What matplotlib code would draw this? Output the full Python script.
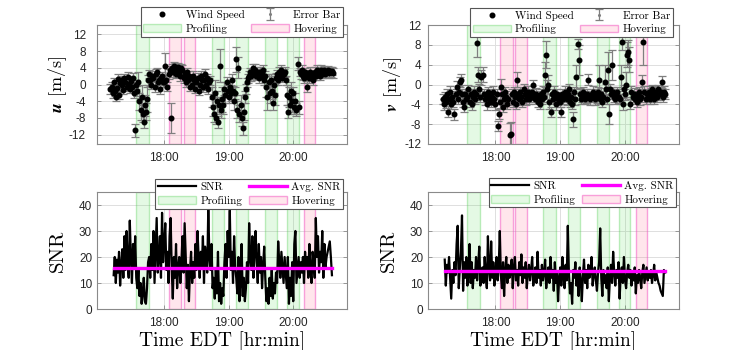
import numpy as np
import pandas as pd
import matplotlib
matplotlib.use("Agg")
import matplotlib.pyplot as plt
import matplotlib.dates as mdates
from matplotlib.patches import Patch
from matplotlib.lines import Line2D

plt.rcParams['axes.unicode_minus'] = False
plt.rcParams['mathtext.fontset'] = 'cm'

# ---------------- data ----------------
u_start = "2021-07-20 17:10"
u_vals = [
    -1.0, -0.5, -2.0, 0.5, -1.5, -3.0, -0.8, 1.2, -2.5, 0.3,      # 17:10
    1.0, 0.0, -1.2, 1.5, 0.5, -0.5, 1.8, 0.2, -1.0, 0.8,          # 17:20
    -0.5, 1.5, -2.0, -11.0, 0.0, -1.5, 0.5, -4.0, -6.0, -3.0,     # 17:30
    -7.0, -9.0, -5.0, -6.5, -3.5, 1.0, 2.5, 1.0, 0.0, 2.0,        # 17:40
    1.5, -0.5, 2.5, 3.0, 0.5, 1.0, -1.0, 1.5, 2.0, 0.5,           # 17:50
    0.5, 4.5, 1.0, -0.5, 2.5, 3.5, -8.0, 4.0, 3.0, 4.5,           # 18:00
    4.0, 2.5, 3.8, 4.2, 3.0, 2.0, 4.0, 3.5, 1.5, 2.5,             # 18:10
    0.5, 3.0, 1.0, 2.0, -0.5, 1.5, 0.0, 2.0, 1.0, -1.0,           # 18:20
    0.5, 1.5, -1.5, 0.0, 2.0, 1.0, -0.5, 1.0, 2.5, 0.0,           # 18:30
    1.5, -1.0, 0.5, 1.0, -3.0, -5.5, -7.0, -2.0, -8.0, -4.0,      # 18:40
    -9.0, -5.0, 4.5, -6.0, -3.5, -5.0, -1.0, -2.5, 0.5, -1.5,     # 18:50
    -3.0, -0.5, -2.0, 1.0, -1.5, -4.0, -2.0, 6.0, -6.0, 4.0,      # 19:00
    -7.0, -5.0, -8.0, -10.5, -6.5, -3.0, -1.0, 0.5, 1.5, 2.0,     # 19:10
    3.0, 2.0, 2.5, 4.0, 3.5, 2.0, 3.0, 2.5, 1.5, 3.0,             # 19:20
    2.0, 2.5, 3.5, 1.0, 2.0, -0.5, -3.0, 0.5, -2.0, 1.0,          # 19:30
    -1.5, -4.5, 0.0, -2.5, 1.5, 2.5, 1.0, 3.0, 2.0, 3.5,          # 19:40
    1.5, 2.5, 3.0, 1.0, -2.5, -6.5, -3.0, -5.0, -1.5, -4.0,       # 19:50
    -2.0, -5.5, -4.0, -6.0, 5.0, -5.5, 3.0, 2.5, 3.5, 2.0,        # 20:00
    1.5, 3.0, 2.0, -0.5, 2.5, 1.5, 3.0, 2.0, 1.0, 2.5,            # 20:10
    3.0, 2.0, 3.5, 2.5, 3.0, 2.0, 3.5, 2.5, 3.0, 3.5,             # 20:20
    2.5, 3.0, 3.5, 2.8, 3.2, 3.0, 3.2, 2.8,                       # 20:30
]
u_err = [
    1.2, 1.0, 1.3, 1.0, 1.2, 1.0, 1.1, 1.3, 1.0, 1.2,
    1.0, 1.2, 1.1, 1.0, 1.3, 1.0, 1.2, 1.0, 1.1, 1.2,
    1.0, 1.2, 1.3, 1.5, 1.0, 1.2, 2.5, 2.0, 2.5, 3.0,
    2.0, 1.5, 2.5, 2.0, 3.0, 1.2, 1.0, 1.3, 1.0, 1.2,
    1.0, 1.2, 1.1, 1.0, 1.3, 1.0, 1.2, 1.0, 1.1, 1.2,
    1.0, 3.0, 1.2, 1.0, 1.1, 1.0, 3.5, 1.0, 1.2, 1.0,
    1.1, 1.0, 1.2, 1.0, 1.1, 1.2, 1.0, 1.1, 1.2, 1.0,
    1.2, 1.0, 1.1, 1.2, 1.0, 1.1, 1.0, 1.2, 1.0, 1.1,
    1.0, 1.2, 1.1, 1.0, 1.3, 1.0, 1.2, 1.0, 1.1, 1.2,
    1.0, 1.2, 1.1, 1.0, 2.5, 2.0, 2.0, 3.0, 1.5, 2.5,
    1.5, 2.0, 4.0, 2.0, 3.0, 2.0, 1.5, 2.0, 1.2, 1.5,
    1.5, 1.2, 2.0, 1.5, 1.2, 2.0, 1.5, 3.0, 2.0, 2.5,
    2.0, 2.5, 2.0, 1.5, 2.0, 1.5, 1.2, 1.0, 1.1, 1.2,
    1.0, 1.2, 1.1, 1.0, 1.3, 1.0, 1.2, 1.0, 1.1, 1.2,
    1.0, 1.2, 1.1, 1.0, 1.3, 2.5, 3.0, 2.0, 2.5, 1.5,
    2.0, 1.5, 2.0, 2.5, 1.2, 1.0, 1.1, 1.2, 1.0, 1.1,
    1.0, 1.2, 1.1, 1.0, 2.5, 1.5, 2.5, 2.0, 2.0, 2.5,
    1.5, 1.5, 2.0, 1.5, 1.5, 1.5, 1.0, 1.1, 1.2, 1.0,
    1.1, 1.0, 1.2, 1.3, 1.0, 1.1, 1.2, 1.0, 1.1, 1.0,
    1.2, 1.0, 1.1, 1.0, 1.2, 1.0, 1.1, 1.0, 1.2, 1.0,
    1.0, 1.1, 1.0, 1.2, 1.0, 1.1, 1.0, 1.2,
]

v_start = "2021-07-20 17:11"
v_vals = [
    -3.0, -4.0, -2.5, -3.5, -2.0, -5.5, -3.0, -1.5, -4.0, -2.5,   # 17:11
    -3.5, -6.0, -2.0, -0.5, -3.0, -1.5, 0.5, 1.0, -2.0, -3.5,     # 17:21
    -4.5, -2.0, -3.0, -2.5, -1.0, -3.5, -2.0, -4.0, -2.5, -1.5,   # 17:31
    -3.0, -2.0, 8.3, 2.0, -1.0, -2.5, 1.5, 2.0, -2.0, -3.0,       # 17:41
    -2.5, -4.0, -1.5, -3.0, -2.0, -3.5, -2.5, -1.5, -3.0, -4.0,   # 17:51
    -2.0, -8.3, -6.0, -3.5, -0.5, -2.0, -4.5, -3.0, -1.5, -2.5,   # 18:01
    -4.0, -3.0, -10.2, -10.0, -2.0, -3.5, -1.5, -2.5, -4.0, 1.0,  # 18:11
    -2.0, -3.0, -1.5, -2.5, -3.5, -1.0, -2.0, -3.0, -2.5, -1.5,   # 18:21
    -3.0, -2.0, -2.5, -1.5, 0.0, -2.5, -3.0, -2.0, -3.5, -2.5,    # 18:31
    -4.0, -2.0, -3.0, -1.5, -2.5, 2.0, 6.0, -1.0, 0.0, -3.5,      # 18:41
    -5.5, -2.0, -3.0, -1.5, -2.5, -4.0, -2.0, -3.0, -2.5, -3.5,   # 18:51
    -5.5, -2.0, -3.0, -1.5, -2.5, -3.0, -2.0, -1.0, -3.5, -2.5,   # 19:01
    -4.0, -7.0, -1.5, -3.0, 1.5, 8.2, 5.0, -2.0, -3.0, -2.5,      # 19:11
    -1.5, -2.0, -3.0, -2.5, -2.0, 1.0, -2.5, -3.0, -2.0, -1.5,    # 19:21
    -2.5, -3.0, -2.0, -2.5, -1.5, 1.0, -3.0, -2.0, -3.5, -2.5,    # 19:31
    0.5, -1.0, -3.0, 3.0, -6.0, -1.0, -2.0, 4.0, -1.5, -2.5,      # 19:41
    -3.0, -2.0, -1.5, -2.5, -3.0, 1.5, 8.5, -4.0, -1.0, -2.0,     # 19:51
    0.0, 6.0, 6.5, 5.0, -4.0, -1.5, -2.5, -2.0, -3.0, -2.5,       # 20:01
    -3.5, -2.0, -1.5, -3.0, -2.5, 0.5, 8.5, -1.5, -3.0, -2.0,     # 20:11
    -2.5, -1.5, -3.0, -2.0, -1.0, -2.5, -3.0, -1.5, -2.0, -2.5,   # 20:21
    -1.0, -2.0, -1.5, 0.5, -2.5, -1.5, -2.0,                      # 20:31
]
v_err = [
    1.0, 1.1, 1.0, 1.2, 1.0, 1.1, 1.0, 1.2, 1.0, 1.1,
    1.0, 1.1, 1.0, 1.2, 1.0, 1.1, 1.0, 1.2, 1.0, 1.1,
    1.0, 1.1, 1.0, 1.2, 1.0, 1.1, 1.0, 1.2, 1.0, 1.1,
    1.0, 1.1, 2.8, 1.5, 1.2, 1.1, 1.5, 1.5, 1.0, 1.1,
    1.0, 1.1, 1.0, 1.2, 1.0, 1.1, 1.0, 1.2, 1.0, 1.1,
    1.0, 1.0, 1.0, 1.2, 1.7, 1.1, 1.0, 1.2, 1.0, 1.1,
    1.0, 1.1, 2.5, 2.5, 1.0, 1.1, 1.0, 1.2, 1.0, 1.5,
    1.0, 1.1, 1.0, 1.2, 1.0, 1.1, 1.0, 1.2, 1.0, 1.1,
    1.0, 1.1, 1.0, 1.2, 1.0, 1.1, 1.0, 1.2, 1.0, 1.1,
    1.0, 1.1, 1.0, 1.2, 1.0, 2.5, 2.7, 2.0, 2.0, 1.5,
    1.0, 1.1, 1.0, 1.2, 1.0, 1.1, 1.0, 1.2, 1.0, 1.1,
    1.0, 1.1, 1.0, 1.2, 1.0, 1.1, 1.0, 1.2, 1.0, 1.1,
    1.0, 1.5, 1.0, 1.2, 2.5, 1.0, 3.0, 1.2, 1.0, 1.1,
    1.0, 1.1, 1.0, 1.2, 1.0, 1.1, 1.0, 1.2, 1.0, 1.1,
    1.0, 1.1, 1.0, 1.2, 1.0, 3.0, 1.0, 1.2, 1.0, 1.1,
    3.5, 1.1, 1.0, 3.5, 2.0, 1.1, 1.0, 3.0, 1.0, 1.1,
    1.0, 1.1, 1.0, 1.2, 1.0, 2.5, 1.5, 1.2, 1.0, 1.1,
    2.5, 2.5, 2.5, 2.5, 1.0, 1.1, 1.0, 1.2, 1.0, 1.1,
    1.0, 1.1, 1.0, 1.2, 1.0, 1.5, 4.5, 1.2, 1.0, 1.1,
    1.0, 1.1, 1.0, 1.2, 1.0, 1.1, 1.0, 1.2, 1.0, 1.1,
    1.0, 1.1, 1.0, 1.2, 1.0, 1.1, 1.0,
]

snr_u_start = "2021-07-20 17:13"
snr_u = [
    13, 20, 10, 19, 14, 22, 9, 17, 23, 12,
    28, 15, 30, 18, 12, 34, 20, 10, 25, 16,
    28, 12, 8, 15, 5, 10, 2, 6, 12, 3,
    2, 8, 18, 20, 12, 25, 15, 30, 10, 22,
    35, 14, 20, 28, 12, 37, 18, 25, 33, 15,
    22, 10, 28, 35, 15, 4, 20, 12, 25, 8,
    16, 20, 10, 18, 28, 14, 33, 20, 8, 17,
    3, 15, 22, 10, 18, 12, 25, 15, 30, 20,
    12, 22, 16, 28, 10, 24, 18, 14, 39, 20,
    15, 25, 8, 12, 4, 15, 6, 22, 3, 10,
    2, 8, 5, 18, 25, 12, 30, 20, 38, 15,
    22, 10, 28, 16, 12, 6, 20, 3, 10, 25,
    5, 12, 3, 8, 18, 10, 33, 20, 15, 28,
    12, 22, 30, 18, 10, 25, 14, 20, 8, 17,
    24, 12, 3, 8, 2, 12, 5, 15, 4, 10,
    6, 14, 10, 26, 18, 12, 22, 16, 10, 20,
    14, 8, 20, 2, 12, 5, 18, 3, 25, 30,
    10, 15, 20, 12, 18, 14, 20, 10, 22, 16,
    20, 12, 25, 15, 10, 22, 18, 12, 35, 20,
    28, 14, 22, 18, 30, 12, 25, 16, 20, 22,
    24, 26, 20, 13,
]
snr_v_start = "2021-07-20 17:13"
snr_v = [
    19, 9, 17, 14, 20, 12, 4, 15, 10, 18,
    13, 25, 32, 8, 16, 22, 36, 7, 18, 12,
    20, 9, 14, 25, 10, 18, 8, 15, 12, 20,
    11, 17, 24, 9, 14, 16, 10, 20, 13, 8,
    28, 15, 11, 26, 12, 18, 9, 14, 20, 11,
    16, 30, 13, 8, 18, 5, 15, 20, 10, 17,
    12, 14, 19, 8, 16, 20, 11, 15, 9, 18,
    13, 21, 10, 16, 12, 18, 8, 14, 17, 11,
    15, 20, 9, 13, 16, 10, 22, 12, 15, 9,
    17, 11, 14, 19, 8, 13, 16, 10, 20, 12,
    15, 7, 18, 10, 14, 3, 12, 16, 9, 20,
    13, 8, 17, 11, 32, 14, 6, 10, 2, 15,
    12, 18, 9, 14, 5, 16, 11, 3, 13, 19,
    10, 15, 8, 17, 12, 14, 20, 9, 13, 16,
    11, 7, 14, 18, 31, 12, 5, 15, 10, 13,
    8, 16, 3, 12, 17, 10, 22, 14, 9, 15,
    12, 18, 4, 13, 16, 10, 20, 11, 8, 14,
    17, 12, 15, 9, 14, 11, 16, 6, 13, 10,
    15, 12, 8, 14, 17, 10, 13, 16, 11, 14,
    12, 15, 10, 13, 17, 11, 14, 12, 10, 9,
    7, 6, 5, 15, 14,
]
avg_snr_u = 15.8
avg_snr_v = 14.6

profiling = [("17:34", "17:46"), ("18:44", "18:56"), ("19:07", "19:18"),
             ("19:34", "19:45"), ("19:54", "20:05")]
hovering = [("18:04", "18:16"), ("18:18", "18:29"), ("20:10", "20:20")]
xticks = ["18:00", "19:00", "20:00"]

day = "2021-07-20 "
xlim = ("16:57:30", "20:50:00")

# ---------------- style ----------------
C_GREEN_FACE = (0.30, 0.85, 0.30, 0.15)
C_GREEN_EDGE = (0.30, 0.80, 0.30, 0.35)
C_PINK_FACE = (1.00, 0.40, 0.55, 0.16)
C_PINK_EDGE = (0.95, 0.30, 0.75, 0.50)
SERIF = 'cmr10'
TICKFONT = 'Liberation Sans'

W, H = 750, 350
fig = plt.figure(figsize=(7.5, 3.5), dpi=100)


def box(x0, x1, ytop, ybot):
    return [x0 / W, 1 - ybot / H, (x1 - x0) / W, (ybot - ytop) / H]


ax_u = fig.add_axes(box(97, 347, 25, 144))
ax_v = fig.add_axes(box(428, 679, 25, 144))
ax_su = fig.add_axes(box(97, 347, 192, 309))
ax_sv = fig.add_axes(box(428, 679, 192, 309))


def T(s):
    return mdates.date2num(pd.Timestamp(day + s).to_pydatetime())


def times(start, n):
    rng = pd.date_range(start, periods=n, freq='1min').to_pydatetime()
    return mdates.date2num(rng)


def shade(ax):
    for a, b in profiling:
        ax.axvspan(T(a), T(b), facecolor=C_GREEN_FACE, edgecolor=C_GREEN_EDGE,
                   lw=1.0, zorder=1)
    for a, b in hovering:
        ax.axvspan(T(a), T(b), facecolor=C_PINK_FACE, edgecolor=C_PINK_EDGE,
                   lw=1.0, zorder=1)


def style(ax, ylim, yticks, ypad):
    ax.set_xlim(T(xlim[0]), T(xlim[1]))
    ax.set_ylim(*ylim)
    ax.set_yticks(yticks)
    ax.set_xticks([T(s) for s in xticks])
    ax.xaxis.set_major_formatter(mdates.DateFormatter('%H:%M'))
    ax.grid(True, color='#dedede', lw=0.7, zorder=0)
    ax.set_axisbelow(True)
    ax.tick_params(direction='in', length=3, width=0.6, colors='#8a8a8a',
                   labelcolor='#262626', labelsize=8.5, top=True, right=True)
    ax.tick_params(axis='x', pad=5.5)
    ax.tick_params(axis='y', pad=ypad)
    for lab in ax.get_xticklabels() + ax.get_yticklabels():
        lab.set_fontfamily(TICKFONT)
    for sp in ax.spines.values():
        sp.set_color('#8a8a8a')
        sp.set_linewidth(0.8)


def make_legend(ax, handles, labels, anchor):
    leg = ax.legend(handles, labels, ncol=2, loc='upper right',
                    bbox_to_anchor=anchor, prop={'family': SERIF, 'size': 8},
                    frameon=True, fancybox=False, framealpha=1,
                    edgecolor='#555555', handlelength=3.4, handletextpad=0.4,
                    columnspacing=0.6, labelspacing=0.35, borderpad=0.25,
                    borderaxespad=0)
    leg.get_frame().set_linewidth(0.8)
    leg.set_zorder(10)


def scatter_panel(ax, start, vals, err, ylim, yticks, ylabel, anchor, ypad):
    t = times(start, len(vals))
    shade(ax)
    eb = ax.errorbar(t, vals, yerr=err, fmt='o', color='#7f7f7f', ms=1.2,
                     ecolor='#7f7f7f', elinewidth=0.9, capsize=2.6,
                     capthick=0.9, zorder=2)
    ax.plot(t, vals, 'o', color='black', ms=3.3, zorder=3, lw=0)
    style(ax, ylim, yticks, ypad)
    ax.set_ylabel(ylabel, fontsize=13, family=SERIF, labelpad=0)
    handles = [Line2D([], [], marker='o', color='black', ms=3.3, lw=0),
               Patch(facecolor=C_GREEN_FACE, edgecolor=C_GREEN_EDGE),
               eb,
               Patch(facecolor=C_PINK_FACE, edgecolor=C_PINK_EDGE)]
    labels = ['Wind Speed', 'Profiling', 'Error Bar', 'Hovering']
    make_legend(ax, handles, labels, anchor)


def snr_panel(ax, start, vals, avg, anchor, ypad):
    t = times(start, len(vals))
    shade(ax)
    ax.plot(t, vals, color='black', lw=1.6, zorder=2)
    ax.plot([t[0], t[-1]], [avg, avg], color='#ff00ff', lw=2.4, zorder=3)
    style(ax, (0, 45), [0, 10, 20, 30, 40], ypad)
    ax.set_ylabel('SNR', fontsize=15, family=SERIF, labelpad=9)
    ax.set_xlabel('Time EDT [hr:min]', fontsize=14, family=SERIF, labelpad=2)
    handles = [Line2D([], [], color='black', lw=1.6),
               Patch(facecolor=C_GREEN_FACE, edgecolor=C_GREEN_EDGE),
               Line2D([], [], color='#ff00ff', lw=2.4),
               Patch(facecolor=C_PINK_FACE, edgecolor=C_PINK_EDGE)]
    labels = ['SNR', 'Profiling', 'Avg. SNR', 'Hovering']
    make_legend(ax, handles, labels, anchor)


scatter_panel(ax_u, u_start, u_vals, u_err, (-14.25, 14.25),
              [-12, -8, -4, 0, 4, 8, 12], r'$\mathbfit{u}$ [m/s]',
              (0.985, 1.15), 8.0)
scatter_panel(ax_v, v_start, v_vals, v_err, (-12, 12),
              [-12, -8, -4, 0, 4, 8, 12], r'$\mathbfit{v}$ [m/s]',
              (0.975, 1.145), 5.0)
snr_panel(ax_su, snr_u_start, snr_u, avg_snr_u, (0.985, 1.11), 3.5)
snr_panel(ax_sv, snr_v_start, snr_v, avg_snr_v, (0.99, 1.12), 3.5)

fig.savefig('out.png', dpi=100)
